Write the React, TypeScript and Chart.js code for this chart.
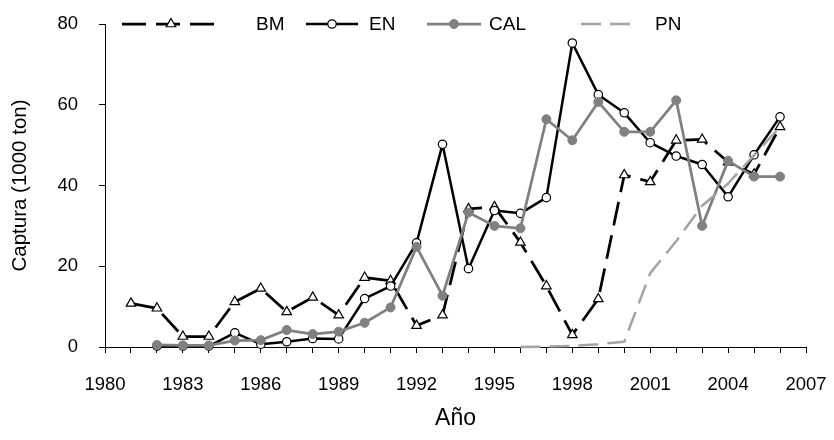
import React, { useEffect, useRef } from "react";
import { Chart, registerables } from "chart.js";

Chart.register(...registerables);

// Years 1981–2006; null where a fishery had no recorded catch
const years = [
  1981, 1982, 1983, 1984, 1985, 1986, 1987, 1988, 1989, 1990, 1991, 1992, 1993,
  1994, 1995, 1996, 1997, 1998, 1999, 2000, 2001, 2002, 2003, 2004, 2005, 2006,
];

const bm = [
  10.8, 9.6, 2.6, 2.6, 11.2, 14.5, 8.7, 12.3, 7.9, 17.2, 16.4, 5.3, 7.9,
  34.2, 34.7, 25.9, 15.1, 3.0, 11.9, 42.6, 40.9, 51.2, 51.4, 45.8, 42.8, 54.5,
];

const en = [
  null, 0.2, 0.2, 0.2, 3.5, 0.7, 1.3, 2.1, 2.0, 12.0, 15.1, 25.8, 50.2,
  19.4, 33.8, 33.1, 37.0, 75.3, 62.5, 58.0, 50.6, 47.3, 45.2, 37.2, 47.6, 57.0,
];

const cal = [
  null, 0.5, 0.4, 0.4, 1.6, 1.7, 4.2, 3.2, 3.8, 6.0, 9.8, 24.8, 12.7,
  33.3, 30.0, 29.4, 56.4, 51.2, 60.7, 53.3, 53.3, 61.1, 30.0, 46.1, 42.2, 42.2,
];

const pn = [
  null, null, null, null, null, null, null, null, null, null, null, null, null,
  null, null, 0.0, 0.1, 0.3, 0.7, 1.3, 18.3, 26.2, 35.0, 40.5, 47.5, 54.5,
];

const seriesNames = ["BM", "EN", "CAL", "PN"];
const yTicks = [0, 20, 40, 60, 80];
const xLabelStep = 3;
const xMin = 1980;
const xMax = 2007;

const FONT = "'Liberation Sans', Arial, sans-serif";
const GREY = "#808080";
const LIGHT_GREY = "#a3a3a3";

const toPoints = (vals: (number | null)[]) =>
  years.map((x, i) => ({ x, y: vals[i] }));

// Key drawn across the top of the plot: line sample, marker, then the name
const keyLayout = [
  { x0: 122, len: 98, textX: 256 },
  { x0: 306, len: 52, textX: 369 },
  { x0: 427, len: 54, textX: 489 },
  { x0: 581, len: 50, textX: 655 },
];

function drawMarker(ctx: CanvasRenderingContext2D, ds: any, x: number, y: number) {
  const r = ds.pointRadius;
  if (!r) return;
  ctx.save();
  ctx.setLineDash([]);
  ctx.lineWidth = ds.pointBorderWidth;
  ctx.strokeStyle = ds.pointBorderColor;
  ctx.fillStyle = ds.pointBackgroundColor;
  ctx.beginPath();
  if (ds.pointStyle === "triangle") {
    for (let k = 0; k < 3; k++) {
      const a = (k * 2 * Math.PI) / 3;
      const px = x + Math.sin(a) * r;
      const py = y - Math.cos(a) * r;
      if (k === 0) ctx.moveTo(px, py);
      else ctx.lineTo(px, py);
    }
    ctx.closePath();
  } else {
    ctx.arc(x, y, r, 0, Math.PI * 2);
  }
  ctx.fill();
  ctx.stroke();
  ctx.restore();
}

const seriesKey = {
  id: "seriesKey",
  afterDraw(chart: any) {
    const ctx: CanvasRenderingContext2D = chart.ctx;
    const y = chart.chartArea.top;
    chart.data.datasets.forEach((ds: any, i: number) => {
      const k = keyLayout[i];
      ctx.save();
      ctx.strokeStyle = ds.borderColor;
      ctx.lineWidth = ds.borderWidth;
      ctx.setLineDash(ds.borderDash || []);
      ctx.beginPath();
      ctx.moveTo(k.x0, y);
      ctx.lineTo(k.x0 + k.len, y);
      ctx.stroke();
      ctx.restore();
      drawMarker(ctx, ds, k.x0 + k.len / 2, y);
      ctx.save();
      ctx.fillStyle = "#000";
      ctx.font = `19px ${FONT}`;
      ctx.textBaseline = "middle";
      ctx.textAlign = "left";
      ctx.fillText(ds.label, k.textX, y + 1);
      ctx.restore();
    });
  },
};

export default function App() {
  const canvasRef = useRef<HTMLCanvasElement | null>(null);

  useEffect(() => {
    if (!canvasRef.current) return;
    Chart.defaults.font.family = FONT;

    const chart = new Chart(canvasRef.current, {
      type: "line",
      data: {
        datasets: [
          {
            label: seriesNames[0],
            data: toPoints(bm),
            borderColor: "#000",
            borderWidth: 2.75,
            borderDash: [24, 10],
            pointStyle: "triangle",
            pointRadius: 5.5,
            pointBorderWidth: 1.2,
            pointBorderColor: "#000",
            pointBackgroundColor: "#fff",
            order: 3,
          },
          {
            label: seriesNames[1],
            data: toPoints(en),
            borderColor: "#000",
            borderWidth: 2.5,
            pointStyle: "circle",
            pointRadius: 4.2,
            pointBorderWidth: 1.2,
            pointBorderColor: "#000",
            pointBackgroundColor: "#fff",
            order: 2,
          },
          {
            label: seriesNames[2],
            data: toPoints(cal),
            borderColor: GREY,
            borderWidth: 2.75,
            pointStyle: "circle",
            pointRadius: 4.5,
            pointBorderWidth: 1,
            pointBorderColor: GREY,
            pointBackgroundColor: GREY,
            order: 1,
          },
          {
            label: seriesNames[3],
            data: toPoints(pn),
            borderColor: LIGHT_GREY,
            borderWidth: 2.5,
            borderDash: [20, 9],
            pointRadius: 0,
            pointBorderWidth: 0,
            pointBorderColor: LIGHT_GREY,
            pointBackgroundColor: LIGHT_GREY,
            order: 0,
          },
        ] as any,
      },
      options: {
        responsive: false,
        animation: false,
        events: [],
        layout: { padding: { left: 0, right: 28, top: 24, bottom: 0 } },
        elements: {
          line: { tension: 0, borderJoinStyle: "round", borderCapStyle: "butt" },
        },
        datasets: { line: { clip: false as any, spanGaps: false } },
        plugins: {
          legend: { display: false },
          tooltip: { enabled: false },
        },
        scales: {
          x: {
            type: "linear",
            min: xMin,
            max: xMax,
            ticks: {
              stepSize: 1,
              autoSkip: false,
              maxRotation: 0,
              padding: 21,
              color: "#000",
              font: { size: 18.5 },
              callback: (v: any) =>
                (Number(v) - xMin) % xLabelStep === 0 ? String(v) : "",
            },
            grid: {
              display: true,
              drawOnChartArea: false,
              drawTicks: true,
              tickLength: 6,
              tickColor: "#000",
              color: "#000",
            },
            border: { display: true, color: "#000", width: 1 },
            title: {
              display: true,
              text: "Año",
              color: "#000",
              font: { size: 23 },
              padding: { top: 0, bottom: 8 },
            },
            afterFit: (s: any) => {
              s.height = 93;
              s.paddingLeft = 0;
              s.paddingRight = 0;
            },
          },
          y: {
            min: yTicks[0],
            max: yTicks[yTicks.length - 1],
            afterBuildTicks: (s: any) => {
              s.ticks = yTicks.map((value) => ({ value }));
            },
            ticks: {
              padding: 21,
              color: "#000",
              font: { size: 18.5 },
              callback: (v: any) => String(v),
            },
            grid: {
              display: true,
              drawOnChartArea: false,
              drawTicks: true,
              tickLength: 6,
              tickColor: "#000",
              color: "#000",
            },
            border: { display: true, color: "#000", width: 1 },
            title: {
              display: true,
              text: "Captura (1000 ton)",
              color: "#000",
              font: { size: 20.5 },
              padding: { top: 8, bottom: 0 },
            },
            afterFit: (s: any) => {
              s.width = 105;
              s.paddingTop = 0;
              s.paddingBottom = 0;
            },
          },
        },
      } as any,
      plugins: [seriesKey],
    });

    return () => chart.destroy();
  }, []);

  return (
    <div style={{ position: "absolute", left: 0, top: 0, width: 834, height: 440, background: "#fff" }}>
      <canvas ref={canvasRef} width={834} height={440} style={{ display: "block" }} />
    </div>
  );
}
